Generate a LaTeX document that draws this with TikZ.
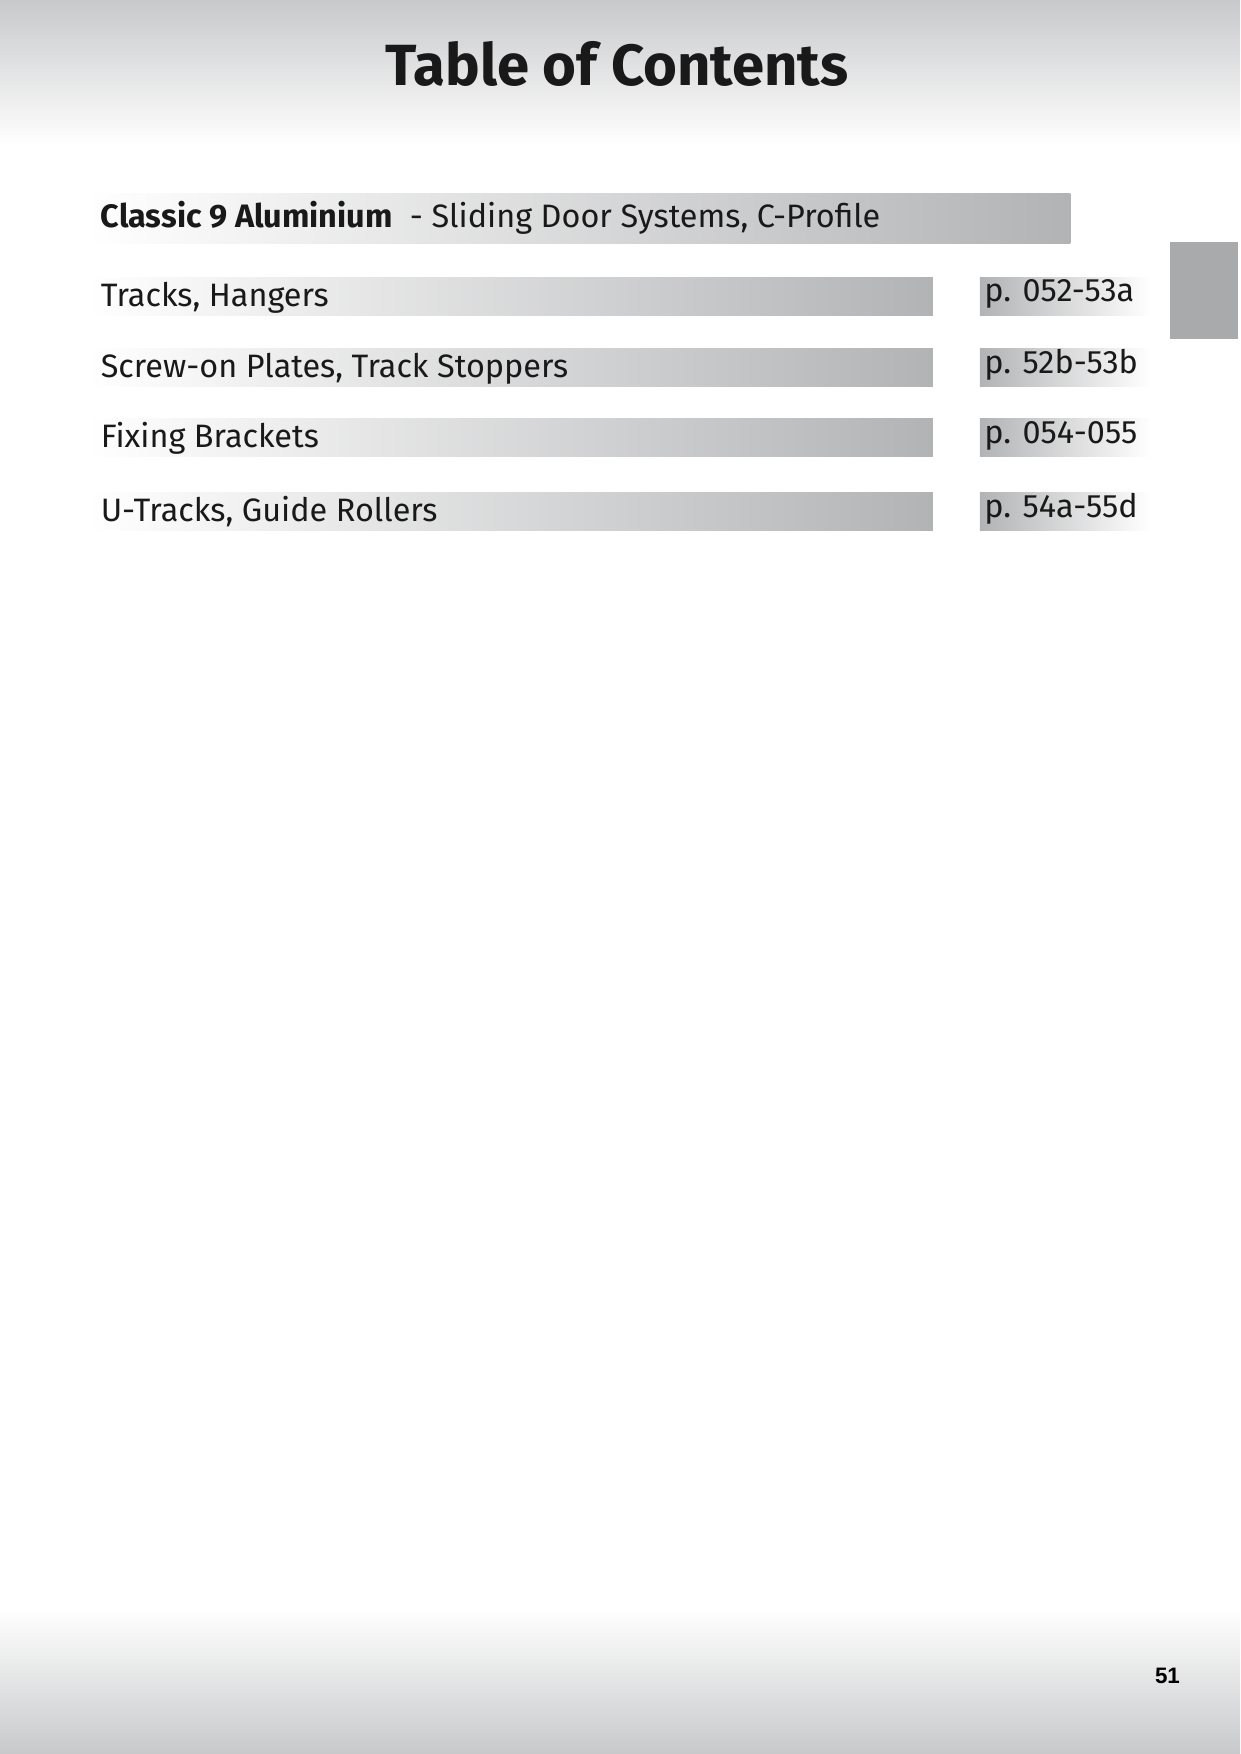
\documentclass[tikz,border=0pt]{standalone}
\usepackage{fontspec}
\setmainfont{Fira Sans}
\newfontfamily\arialf{Liberation Sans}
\definecolor{barg}{HTML}{B2B3B5}
\definecolor{topg}{HTML}{C8C9CB}
\tikzset{
  rowbar/.style={left color=white, right color=barg, draw=none},
  pagebox/.style={left color=barg, right color=white, draw=none},
  rowtxt/.style={anchor=base west, inner sep=0, font=\fontsize{29}{32}\selectfont, text=black!90},
}
\begin{document}
\begin{tikzpicture}[x=1pt,y=-1pt]
\useasboundingbox (0,0) rectangle (1110,1570);
\fill[white] (0,0) rectangle (1110,1570);
\shade[top color=topg, bottom color=white, draw=none] (0,0) rectangle (1110,130);
\shade[top color=white, bottom color=topg, draw=none] (0,1440) rectangle (1110,1570);
\node[font=\fontsize{52}{56}\bfseries\selectfont, text=black!90] (title) at (552,57) {Table of Contents};
\fill[barg!95!black] (1047,217) rectangle (1108,303);
\shade[rowbar] (78,173) rectangle (958,218);
\node[rowtxt] (hdr) at (90,204) {\textbf{Classic 9 Aluminium}\ \ - Sliding Door Systems, C-Profile};
\foreach \y/\t/\p/\n in {248/{Tracks, Hangers}/{p. 052-53a}/a, 312/{Screw-on Plates, Track Stoppers}/{p. 52b-53b}/b, 375/{Fixing Brackets}/{p. 054-055}/c, 441/{U-Tracks, Guide Rollers}/{p. 54a-55d}/d}{
  \shade[rowbar] (78,\y) rectangle (835,\y+34);
  \shade[pagebox] (877,\y) rectangle (1030,\y+34);
  \node[rowtxt] (r\n) at (90,\y+26) {\t};
  \node[rowtxt] (p\n) at (881,\y+22) {\p};
}
\node[font=\arialf\bfseries\fontsize{20}{24}\selectfont] (pg) at (1045,1500) {51};
\end{tikzpicture}
\end{document}
